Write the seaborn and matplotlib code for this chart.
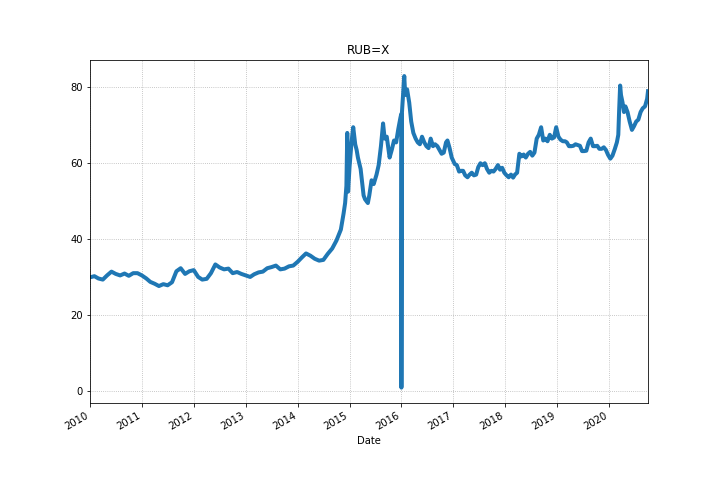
import pandas as pd
import matplotlib
matplotlib.use("Agg")
import matplotlib.pyplot as plt
import matplotlib.dates as mdates
import seaborn as sns

# USD/RUB close
dates = [
    "2010-01-01", "2010-02-01", "2010-03-01", "2010-04-01", "2010-05-01", "2010-06-01",
    "2010-07-01", "2010-08-01", "2010-09-01", "2010-10-01", "2010-11-01", "2010-12-01",
    "2011-01-01", "2011-02-01", "2011-03-01", "2011-04-01", "2011-05-01", "2011-06-01",
    "2011-07-01", "2011-08-01", "2011-09-01", "2011-10-01", "2011-11-01", "2011-12-01",
    "2012-01-01", "2012-02-01", "2012-03-01", "2012-04-01", "2012-05-01", "2012-06-01",
    "2012-07-01", "2012-08-01", "2012-09-01", "2012-10-01", "2012-11-01", "2012-12-01",
    "2013-01-01", "2013-02-01", "2013-03-01", "2013-04-01", "2013-05-01", "2013-06-01",
    "2013-07-01", "2013-08-01", "2013-09-01", "2013-10-01", "2013-11-01", "2013-12-01",
    "2014-01-01", "2014-02-01", "2014-03-01", "2014-04-01", "2014-05-01", "2014-06-01",
    "2014-07-01", "2014-08-01", "2014-09-01", "2014-10-01", "2014-11-01", "2014-11-20",
    "2014-12-01", "2014-12-10", "2014-12-16", "2014-12-22",
    "2015-01-01", "2015-01-15", "2015-01-27", "2015-02-10", "2015-02-20", "2015-03-01",
    "2015-03-20", "2015-04-10", "2015-04-20", "2015-05-10", "2015-05-20", "2015-06-05",
    "2015-06-20", "2015-07-10", "2015-07-25", "2015-08-10", "2015-08-25", "2015-09-05",
    "2015-09-20", "2015-10-10", "2015-10-25", "2015-11-10", "2015-11-25", "2015-12-10",
    "2015-12-25", "2015-12-31",
    "2016-01-01", "2016-01-05", "2016-01-12", "2016-01-21", "2016-01-28", "2016-02-10",
    "2016-02-25", "2016-03-10", "2016-03-25", "2016-04-10", "2016-04-25", "2016-05-10",
    "2016-05-25", "2016-06-10", "2016-06-25", "2016-07-10", "2016-07-25", "2016-08-10",
    "2016-08-25", "2016-09-10", "2016-09-25", "2016-10-10", "2016-10-25", "2016-11-10",
    "2016-11-20", "2016-12-05", "2016-12-20",
    "2017-01-10", "2017-01-25", "2017-02-10", "2017-02-25", "2017-03-10", "2017-03-25",
    "2017-04-10", "2017-04-25", "2017-05-10", "2017-05-25", "2017-06-10", "2017-06-25",
    "2017-07-10", "2017-07-25", "2017-08-10", "2017-08-25", "2017-09-10", "2017-09-25",
    "2017-10-10", "2017-10-25", "2017-11-10", "2017-11-25", "2017-12-10", "2017-12-25",
    "2018-01-10", "2018-01-25", "2018-02-10", "2018-02-25", "2018-03-10", "2018-03-25",
    "2018-04-10", "2018-04-25", "2018-05-10", "2018-05-25", "2018-06-10", "2018-06-25",
    "2018-07-10", "2018-07-25", "2018-08-10", "2018-08-25", "2018-09-10", "2018-09-25",
    "2018-10-10", "2018-10-25", "2018-11-10", "2018-11-25", "2018-12-10", "2018-12-25",
    "2019-01-10", "2019-01-25", "2019-02-10", "2019-02-25", "2019-03-10", "2019-03-25",
    "2019-04-10", "2019-04-25", "2019-05-10", "2019-05-25", "2019-06-10", "2019-06-25",
    "2019-07-10", "2019-07-25", "2019-08-10", "2019-08-25", "2019-09-10", "2019-09-25",
    "2019-10-10", "2019-10-25", "2019-11-10", "2019-11-25", "2019-12-10", "2019-12-25",
    "2020-01-10", "2020-01-25", "2020-02-10", "2020-02-25", "2020-03-06", "2020-03-12",
    "2020-03-19", "2020-03-25", "2020-04-05", "2020-04-15", "2020-04-25", "2020-05-10",
    "2020-05-25", "2020-06-10", "2020-06-25", "2020-07-10", "2020-07-25", "2020-08-10",
    "2020-08-25", "2020-09-10", "2020-09-25", "2020-10-01",
]
rub = [
    29.9, 30.2, 29.6, 29.3, 30.4, 31.4, 30.8, 30.4, 30.9, 30.3, 31.0, 31.0,
    30.4, 29.6, 28.7, 28.2, 27.6, 28.1, 27.8, 28.6, 31.5, 32.3, 30.8, 31.5,
    31.8, 30.0, 29.3, 29.5, 31.0, 33.3, 32.5, 32.0, 32.2, 31.0, 31.3, 30.8,
    30.4, 30.0, 30.7, 31.2, 31.4, 32.3, 32.6, 33.0, 32.0, 32.2, 32.8, 33.0,
    34.0, 35.2, 36.2, 35.6, 34.8, 34.3, 34.5, 36.1, 37.5, 39.6, 42.5, 46.7,
    49.5, 54.0, 68.0, 52.5,
    59.0, 65.5, 69.5, 65.0, 63.5, 61.5, 58.5, 51.5, 50.5, 49.5, 51.5, 55.5,
    54.5, 57.0, 59.5, 64.5, 70.5, 66.5, 67.0, 61.5, 63.5, 66.0, 65.5, 69.0,
    72.0, 73.0,
    0.8, 73.5, 77.5, 83.0, 78.0, 79.5, 76.0, 71.0, 68.0, 66.5, 65.5, 65.0,
    67.0, 65.5, 64.5, 64.0, 66.5, 64.5, 65.0, 64.5, 63.5, 62.5, 62.8, 65.5,
    66.0, 64.0, 61.5,
    59.8, 59.5, 57.8, 58.0, 58.0, 56.8, 56.3, 57.0, 57.5, 56.8, 57.0, 59.0,
    60.0, 59.5, 60.0, 58.5, 57.5, 58.0, 57.8, 58.5, 59.5, 58.3, 58.8, 57.5,
    56.8, 56.3, 57.0, 56.2, 57.0, 57.5, 62.5, 61.8, 62.3, 61.5, 62.5, 63.0,
    62.0, 62.8, 66.5, 67.5, 69.5, 66.0, 66.5, 65.8, 67.5, 66.5, 66.8, 69.5,
    67.0, 66.2, 65.8, 65.8, 65.5, 64.5, 64.5, 64.6, 65.0, 64.8, 64.6, 63.2,
    63.2, 63.3, 65.5, 66.5, 64.5, 64.5, 64.6, 63.8, 63.8, 64.2, 63.5, 62.2,
    61.2, 62.0, 63.7, 65.5, 67.5, 74.0, 80.5, 78.0, 76.0, 73.5, 75.0, 73.5,
    71.0, 68.8, 69.8, 71.0, 71.5, 73.5, 74.5, 75.0, 77.0, 79.0,
]

df = pd.DataFrame({"Date": pd.to_datetime(dates), "RUB=X": rub})

fig, ax = plt.subplots(figsize=(10, 7), dpi=72)
sns.lineplot(data=df, x="Date", y="RUB=X", ax=ax, color="#1f77b4", linewidth=4)

ax.set_xlim(df["Date"].min(), df["Date"].max())
ax.xaxis.set_major_locator(mdates.YearLocator())
ax.xaxis.set_major_formatter(mdates.DateFormatter("%Y"))
ax.grid(True, linestyle=":")
ax.set_title("RUB=X")
ax.set_xlabel("Date")
ax.set_ylabel("")
fig.autofmt_xdate()

fig.savefig("out.png", dpi=72)
